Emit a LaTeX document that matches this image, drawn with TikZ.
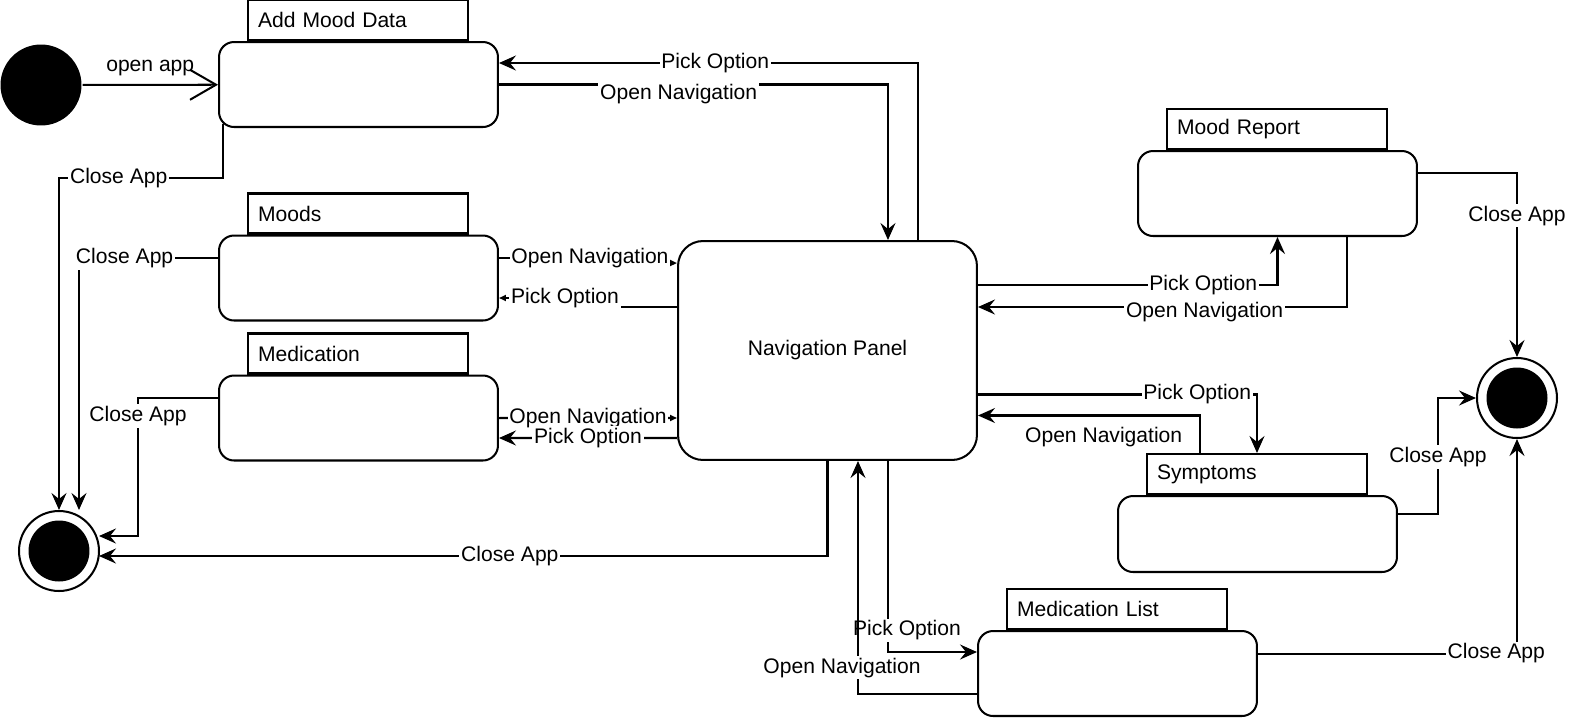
\documentclass[tikz,border=0pt]{standalone}
\usepackage{fontspec}
\setmainfont{Liberation Sans}
\usetikzlibrary{arrows.meta,positioning}

\begin{document}
\begin{tikzpicture}[x=0.02cm,y=-0.02cm,line width=1.15pt,
    every node/.style={font=\fontsize{12}{14}\selectfont},
    statebody/.style={draw,rounded corners=0.3cm,minimum width=5.58cm,minimum height=1.7cm,inner sep=0pt},
    statetab/.style={draw,minimum height=0.8cm,text width=4.0cm,inner xsep=0.2cm,inner ysep=0pt,align=left},
    startstate/.style={circle,fill=black,minimum size=1.62cm,inner sep=0pt},
    endstate/.style={circle,draw,minimum size=1.6cm,inner sep=0pt,
        path picture={\fill (path picture bounding box.center) circle (0.61cm);}},
    lbl/.style={fill=white,inner sep=1pt},
    tr/.style={-{Stealth[length=0.34cm,width=0.3cm,inset=0.12cm]}},
    smalltr/.style={-{Triangle[length=0.14cm,width=0.12cm]}},
    openarr/.style={-{Straight Barb[length=0.52cm,width=0.6cm]}}]
    \useasboundingbox (0,0) rectangle (1570,718);
        \node[startstate] (init) at (41,85) {};
        \node[statebody] (amd) at (358.5,84.5) {};
        \node[statetab] (amdtab) [above right=0cm and 0.58cm of amd.north west] {Add Mood Data};
        \node[statebody] (moods) at (358.5,278) {};
        \node[statetab] (moodstab) [above right=0cm and 0.58cm of moods.north west] {Moods};
        \node[statebody] (med) at (358.5,418) {};
        \node[statetab] (medtab) [above right=0cm and 0.58cm of med.north west] {Medication};
        \node[draw,rounded corners=0.5cm,minimum width=5.98cm,minimum height=4.38cm] (nav) at (827.5,350.5) {Navigation Panel};
        \node[statebody] (report) at (1277.5,193.5) {};
        \node[statetab] (reporttab) [above right=0cm and 0.58cm of report.north west] {Mood Report};
        \node[statebody,minimum height=1.52cm] (sym) at (1257.5,534) {};
        \node[statetab] (symtab) [above right=0cm and 0.58cm of sym.north west] {Symptoms};
        \node[statebody] (medlist) at (1117.5,673.5) {};
        \node[statetab] (medlisttab) [above right=0cm and 0.58cm of medlist.north west] {Medication List};
        \node[endstate] (endl) at (59,551) {};
        \node[endstate] (endr) at (1517,398) {};

        \draw[openarr] (init) -- (amd) node[midway,above=1pt] {open app};
        \draw[tr] ([xshift=0.1cm,yshift=0.08cm]amd.south west) -- ++(0,54) -| (endl.north) node[lbl,pos=0.318] {Close App};
        \draw[tr] ([yshift=0.4cm]moods.west) -| ([xshift=0.4cm]endl.north) node[lbl,pos=0.336] {Close App};
        \draw[tr] ([yshift=0.4cm]med.west) -- ++(-80,0) |- ([xshift=0.8cm,yshift=0.3cm]endl.center) node[lbl,pos=0.065] {Close App};
        \draw[tr] (nav.south) |- ([xshift=0.8cm,yshift=-0.1cm]endl.center) node[lbl,pos=0.718] {Close App};
        \draw[tr] (amd.east) -| ([xshift=1.21cm]nav.north) node[lbl,pos=0.231,yshift=-0.2cm] {Open Navigation};
        \draw[tr] ([xshift=1.81cm]nav.north) |- ([yshift=0.43cm]amd.east) node[lbl,pos=0.742] {Pick Option};
        \draw[smalltr] ([yshift=0.4cm]moods.east) -- ++(91,0) node[lbl] {Open Navigation} |- ([yshift=1.75cm]nav.west);
        \draw[smalltr] ([yshift=0.87cm]nav.west) -- ++(-112,0) |- ([yshift=-0.4cm]moods.east) node[lbl,pos=0.5] {Pick Option};
        \draw[smalltr] (med.east) -- ([yshift=-1.35cm]nav.west) node[lbl,midway] {Open Navigation};
        \draw[tr] ([yshift=-1.75cm]nav.west) -- ([yshift=-0.4cm]med.east) node[lbl,midway] {Pick Option};
        \draw[tr] ([yshift=1.31cm]nav.east) -| (report.south) node[lbl,pos=0.376] {Pick Option};
        \draw[tr] ([xshift=1.39cm]report.south) |- ([yshift=0.87cm]nav.east) node[lbl,pos=0.693,yshift=-0.1cm] {Open Navigation};
        \draw[tr] ([yshift=-0.88cm]nav.east) -| (symtab.north) node[lbl,pos=0.393] {Pick Option};
        \draw[tr] ([xshift=-1.14cm]symtab.north) |- ([yshift=-1.3cm]nav.east) node[lbl,pos=0.717,yshift=-0.44cm] {Open Navigation};
        \draw[tr] ([yshift=0.4cm]sym.east) -- ++(40,0) |- (endr.west) node[lbl,pos=0.246] {Close App};
        \draw[tr] ([yshift=0.41cm]report.east) -| (endr.north) node[lbl,pos=0.616] {Close App};
        \draw[tr] ([yshift=0.4cm]medlist.east) -| (endr.south) node[lbl,pos=0.46] {Close App};
        \draw[tr] ([xshift=1.21cm]nav.south) |- ([yshift=0.43cm]medlist.west) node[lbl,pos=0.443,xshift=0.38cm] {Pick Option};
        \draw[tr] ([yshift=-0.41cm]medlist.west) -| ([xshift=0.61cm]nav.south) node[lbl,pos=0.556,xshift=-0.32cm] {Open Navigation};
    \end{tikzpicture}
\end{document}
